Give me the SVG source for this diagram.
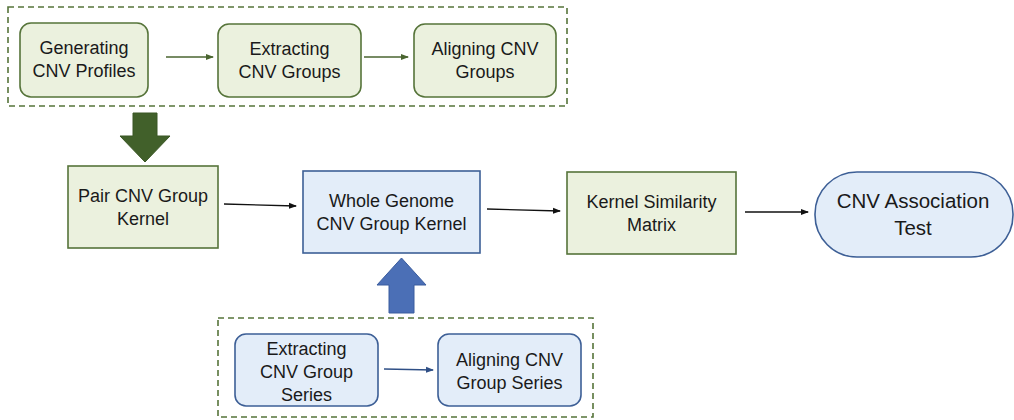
<svg xmlns="http://www.w3.org/2000/svg" width="1014" height="420" viewBox="0 0 1014 420">
<style>
.g{fill:#ebf1de;stroke:#56743a;stroke-width:1.6}
.b{fill:#e3edf9;stroke:#3d5f96;stroke-width:1.6}
.dash{fill:none;stroke:#56743a;stroke-width:1.6;stroke-dasharray:6 4}
text{font-family:"Liberation Sans",Arial,sans-serif;font-size:18px;fill:#1a1a1a;text-anchor:middle}
.big{font-size:20.5px}
.cg{stroke:#4a6530;stroke-width:1.4;fill:none}
.ck{stroke:#111;stroke-width:1.4;fill:none}
.cb{stroke:#2f4f86;stroke-width:1.4;fill:none}
</style>
<defs>
<marker id="mg" markerWidth="8" markerHeight="8" refX="7" refY="4" orient="auto" markerUnits="userSpaceOnUse"><path d="M0,1 L8,4 L0,7 z" fill="#4a6530"/></marker>
<marker id="mk" markerWidth="8" markerHeight="8" refX="7" refY="4" orient="auto" markerUnits="userSpaceOnUse"><path d="M0,1 L8,4 L0,7 z" fill="#111"/></marker>
<marker id="mb" markerWidth="8" markerHeight="8" refX="7" refY="4" orient="auto" markerUnits="userSpaceOnUse"><path d="M0,1 L8,4 L0,7 z" fill="#2f4f86"/></marker>
</defs>
<rect class="dash" x="8" y="7" width="559" height="99"/>
<rect class="dash" x="218" y="318" width="375" height="99"/>
<g id="n1"><rect class="g" x="20" y="23" width="128" height="74" rx="11"/><text x="84" y="54">Generating</text><text x="84" y="77">CNV Profiles</text></g>
<g id="n2"><rect class="g" x="218" y="24" width="143" height="73" rx="11"/><text x="289.5" y="55">Extracting</text><text x="289.5" y="78">CNV Groups</text></g>
<g id="n3"><rect class="g" x="414" y="24" width="142" height="73" rx="11"/><text x="485" y="55">Aligning CNV</text><text x="485" y="78">Groups</text></g>
<g id="n4"><rect class="g" x="68" y="166" width="150" height="82"/><text x="143" y="202">Pair CNV Group</text><text x="143" y="225">Kernel</text></g>
<g id="n5"><rect class="b" x="303" y="171" width="177" height="82"/><text x="391.5" y="207">Whole Genome</text><text x="391.5" y="230">CNV Group Kernel</text></g>
<g id="n6"><rect class="g" x="567" y="172" width="169" height="82"/><text x="651.5" y="208">Kernel Similarity</text><text x="651.5" y="231">Matrix</text></g>
<g id="n7"><rect class="b" x="815" y="172" width="198" height="85" rx="42"/><text class="big" x="913" y="208">CNV Association</text><text class="big" x="913" y="235">Test</text></g>
<g id="n8"><rect class="b" x="235" y="334" width="143" height="72" rx="11"/><text x="306.5" y="355">Extracting</text><text x="306.5" y="378">CNV Group</text><text x="306.5" y="401">Series</text></g>
<g id="n9"><rect class="b" x="438" y="334" width="143" height="72" rx="11"/><text x="509.5" y="366">Aligning CNV</text><text x="509.5" y="389">Group Series</text></g>
<g id="connectors">
<line class="cg" x1="166" y1="57" x2="213" y2="57" marker-end="url(#mg)"/>
<line class="cg" x1="364" y1="57" x2="408" y2="57" marker-end="url(#mg)"/>
<line class="ck" x1="224" y1="204" x2="296" y2="206" marker-end="url(#mk)"/>
<line class="ck" x1="487" y1="209" x2="560" y2="211" marker-end="url(#mk)"/>
<line class="ck" x1="745" y1="212" x2="808" y2="212" marker-end="url(#mk)"/>
<line class="cb" x1="384" y1="369" x2="433" y2="370" marker-end="url(#mb)"/>
<path d="M133,113 L157,113 L157,136 L170,136 L145,162 L120,136 L133,136 Z" fill="#41602a" stroke="#3a5624" stroke-width="1"/>
<path d="M389,313 L414,313 L414,285 L426,285 L401.5,258 L377,285 L389,285 Z" fill="#4b6fb6" stroke="#3a5c9e" stroke-width="1"/>
</g>
</svg>
